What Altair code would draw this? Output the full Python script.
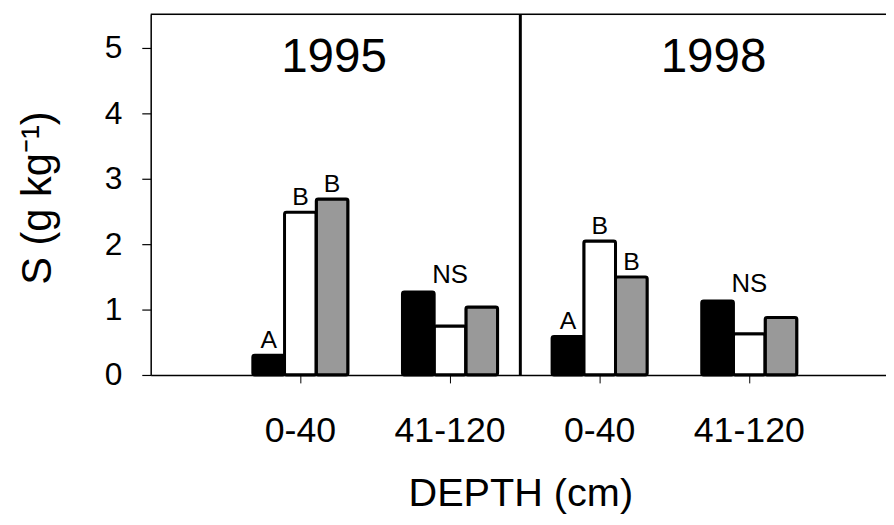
import altair as alt
import pandas as pd

FONT = "Liberation Sans"

years = ["1995", "1998"]
depths = ["0-40", "41-120"]
treatments = ["T1", "T2", "T3"]
fills = ["#000000", "#ffffff", "#999999"]

s_1995_0_40 = [0.30, 2.49, 2.69]
s_1995_41_120 = [1.27, 0.75, 1.04]
s_1998_0_40 = [0.59, 2.05, 1.50]
s_1998_41_120 = [1.13, 0.63, 0.88]

letters_0_40 = ["A", "B", "B"]
group_label_41_120 = "NS"

values = {
    ("1995", "0-40"): s_1995_0_40,
    ("1995", "41-120"): s_1995_41_120,
    ("1998", "0-40"): s_1998_0_40,
    ("1998", "41-120"): s_1998_41_120,
}

rows = []
ns_rows = []
groups = []
for yr in years:
    for d in depths:
        g = f"{yr}|{d}"
        groups.append(g)
        vals = values[(yr, d)]
        for i, t in enumerate(treatments):
            rows.append({"group": g, "trt": t, "S": vals[i],
                         "letter": letters_0_40[i] if d == "0-40" else ""})
        if d == "41-120":
            ns_rows.append({"group": g, "S": max(vals), "label": group_label_41_120})

df = pd.DataFrame(rows)
ns_df = pd.DataFrame(ns_rows)

W, H = 742, 364

xscale = alt.Scale(domain=groups, paddingInner=0.364, paddingOuter=0.639, align=0.534)
yscale = alt.Scale(domain=[0, 5.515], nice=False, zero=True)
offscale = alt.Scale(domain=treatments, paddingInner=0, paddingOuter=0)

x_axis = alt.Axis(
    labelExpr="split(datum.label, '|')[1]", labelAngle=0, labelFontSize=36,
    labelFont=FONT, labelColor="black", labelPadding=31, labelOverlap=False,
    tickSize=8, tickColor="black", tickWidth=1, domainColor="black", domainWidth=1.5,
    title="DEPTH (cm)", titleFont=FONT, titleFontSize=40, titleFontWeight="normal",
    titleColor="black", titleX=373, titleY=132, titleBaseline="alphabetic", titleAlign="center",
)
y_axis = alt.Axis(
    values=[0, 1, 2, 3, 4, 5], grid=False, labelFontSize=32, labelFont=FONT,
    labelColor="black", labelPadding=20, tickSize=9, tickColor="black", tickWidth=1.2,
    domainColor="black", domainWidth=1.5,
    title="S (g kg⁻¹)", titleFont=FONT, titleFontSize=42, titleFontWeight="normal",
    titleColor="black", titleX=-92, titleY=185, titleAngle=270,
    titleBaseline="bottom", titleAlign="center",
)

x_enc = alt.X("group:N", scale=xscale, sort=groups, axis=x_axis)
y_enc = alt.Y("S:Q", scale=yscale, axis=y_axis)

bars = alt.Chart(df).mark_bar(stroke="black", strokeWidth=3, cornerRadius=2).encode(
    x=x_enc,
    xOffset=alt.XOffset("trt:N", scale=offscale),
    y=y_enc,
    fill=alt.Fill("trt:N", scale=alt.Scale(domain=treatments, range=fills), legend=None),
)

letters = alt.Chart(df).mark_text(
    dy=-7, baseline="alphabetic", fontSize=25, font=FONT, color="black"
).encode(
    x=x_enc,
    xOffset=alt.XOffset("trt:N", scale=offscale),
    y=y_enc,
    text="letter:N",
)

ns_text = alt.Chart(ns_df).mark_text(
    dy=-9, baseline="alphabetic", fontSize=26, font=FONT, color="black"
).encode(
    x=x_enc,
    y=y_enc,
    text="label:N",
)

title_1995 = alt.Chart(pd.DataFrame({"t": [years[0]]})).mark_text(
    fontSize=48, font=FONT, color="black", baseline="alphabetic", align="center"
).encode(x=alt.value(185), y=alt.value(58), text="t:N")

title_1998 = alt.Chart(pd.DataFrame({"t": [years[1]]})).mark_text(
    fontSize=48, font=FONT, color="black", baseline="alphabetic", align="center"
).encode(x=alt.value(568), y=alt.value(58), text="t:N")

separator = alt.Chart(pd.DataFrame({"a": [0]})).mark_rule(
    color="black", strokeWidth=3
).encode(x=alt.value(373), y=alt.value(0), y2=alt.value(H))

top_border = alt.Chart(pd.DataFrame({"a": [0]})).mark_rule(
    color="black", strokeWidth=1.5
).encode(x=alt.value(0), x2=alt.value(W), y=alt.value(0))

chart = alt.layer(
    bars, letters, ns_text, title_1995, title_1998, separator, top_border
).properties(
    width=W, height=H,
    autosize=alt.AutoSizeParams(type="none"),
    padding={"left": 144, "top": 4, "right": 0, "bottom": 141},
).configure_view(stroke=None).configure(background="white")

chart.save("out.html", embed_options={"renderer": "svg", "actions": False})
